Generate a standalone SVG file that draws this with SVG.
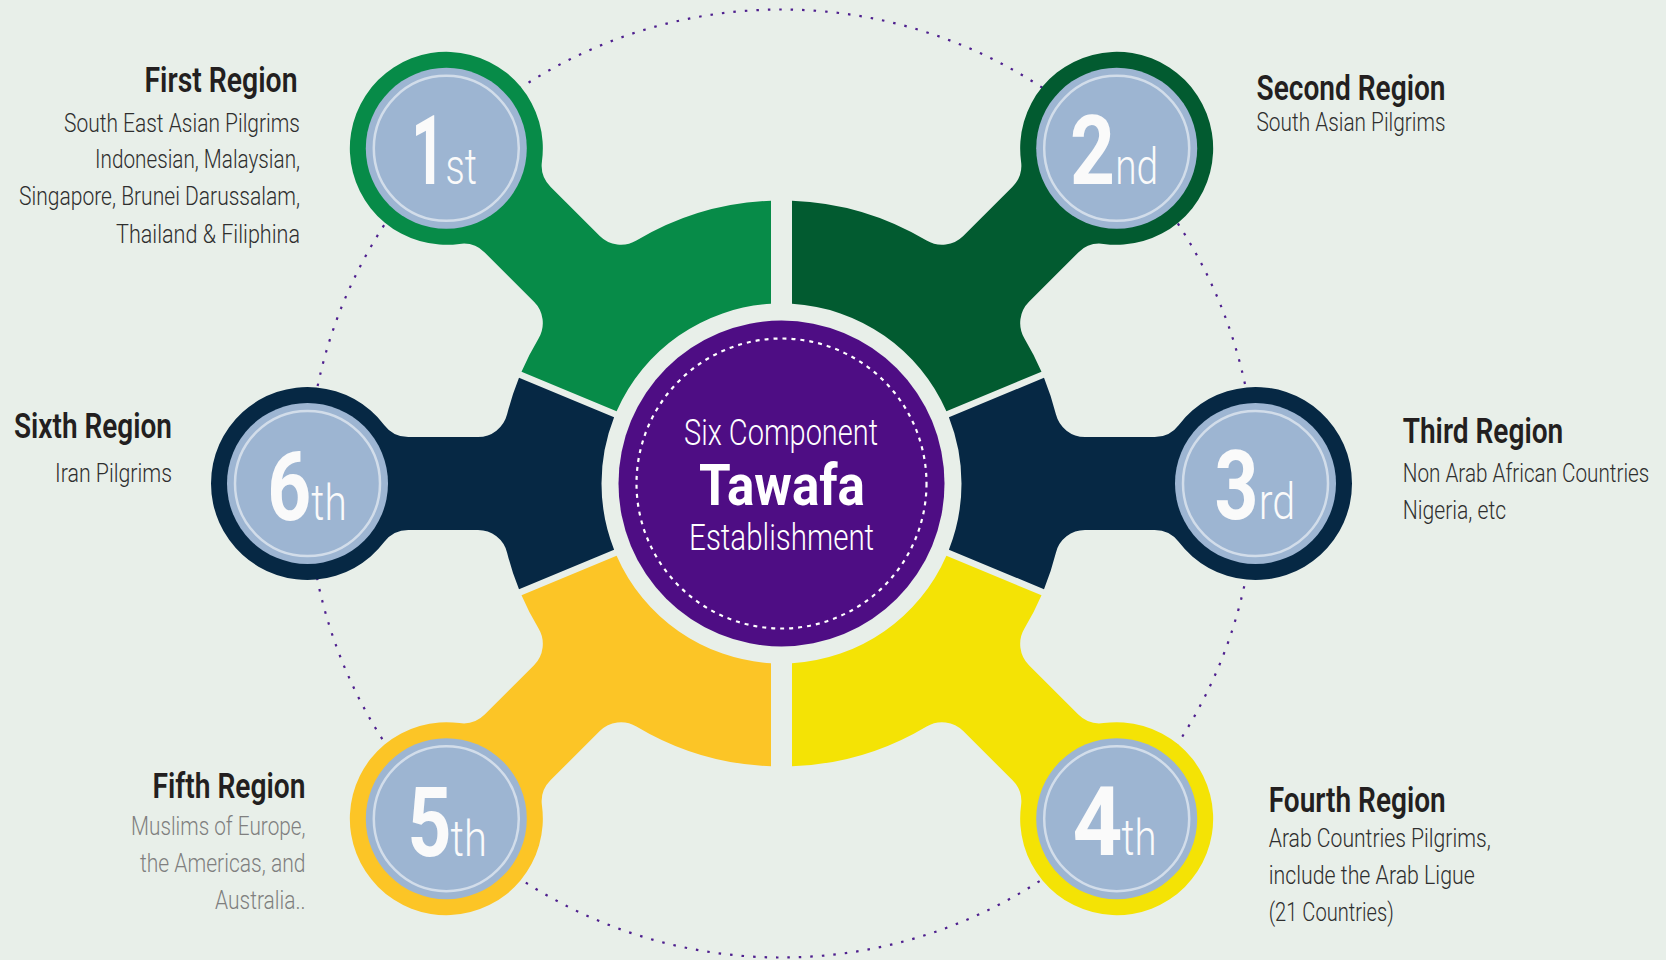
<svg xmlns="http://www.w3.org/2000/svg" xmlns:xlink="http://www.w3.org/1999/xlink" width="1666" height="960" viewBox="0 0 1666 960">
<style>
text{font-family:Roboto,"Liberation Sans","DejaVu Sans",sans-serif}
.ttl{font-size:35px;font-weight:600;fill:#231F20}
.dsc{font-size:26px;font-weight:300;fill:#2E2E2E}
.dsc5{font-size:26px;font-weight:300;fill:#7F7F7F}
.num{font-size:97px;font-weight:700;fill:#FAFAFA;text-anchor:middle}
.suf{font-size:50px;font-weight:300;fill:#FAFAFA}
.inner{fill:#9DB5D2}
.ring{fill:none;stroke:#D2DDEA;stroke-width:2.5}
.ctr{fill:#FFFFFF;text-anchor:middle}
.end{text-anchor:end}
</style>
<defs>
<path id="seg-diag" d="M -134.49 -119.64 L -207.40 -192.55 A 283 283 0 0 0 -274.4 -69.17 A 30 30 0 0 1 -303.5 -46.5 L -373.25 -46.5 A 30 30 0 0 1 -397.14 -58.36 A 96.5 96.5 0 1 0 -397.14 58.36 A 30 30 0 0 1 -373.25 46.5 L -303.5 46.5 A 30 30 0 0 1 -274.4 69.17 A 283 283 0 0 0 -262.86 104.83 L -167.63 65.58 A 180 180 0 0 1 -134.49 -119.64 Z"/>
<path id="seg-side" d="M -167.4 -66.16 L -262.5 -105.75 A 283 283 0 0 0 -274.4 -69.17 A 30 30 0 0 1 -303.5 -46.5 L -373.25 -46.5 A 30 30 0 0 1 -397.14 -58.36 A 96.5 96.5 0 1 0 -397.14 58.36 A 30 30 0 0 1 -373.25 46.5 L -303.5 46.5 A 30 30 0 0 1 -274.4 69.17 A 283 283 0 0 0 -262.5 105.75 L -167.4 66.16 A 180 180 0 0 1 -167.4 -66.16 Z"/>
</defs>
<rect width="1666" height="960" fill="#E8EFE9"/>
<g id="connectors">
<circle cx="781.5" cy="483.5" r="474" fill="none" stroke="#4E1F8E" stroke-width="2.2" stroke-dasharray="2.5 9"/>
</g>
<g id="node-1">
<use xlink:href="#seg-diag" href="#seg-diag" transform="translate(781.5 483.5) rotate(45)" fill="#078B48"/>
<circle class="inner" cx="446.3" cy="148.3" r="80.5"/>
<circle class="ring" cx="446.3" cy="148.3" r="72.5"/>
<text class="num" transform="translate(428 184) scale(0.6 1)" textLength="56" lengthAdjust="spacingAndGlyphs">1</text>
<text class="suf" transform="translate(445.5 184) scale(0.7 1)" textLength="45" lengthAdjust="spacingAndGlyphs">st</text>
<text class="ttl end" transform="translate(297.5 92) scale(0.8 1)" textLength="191.25" lengthAdjust="spacingAndGlyphs">First Region</text>
<text class="dsc end" transform="translate(300 131.5) scale(0.8 1)" textLength="295" lengthAdjust="spacingAndGlyphs">South East Asian Pilgrims</text>
<text class="dsc end" transform="translate(300 168) scale(0.8 1)" textLength="256.25" lengthAdjust="spacingAndGlyphs">Indonesian, Malaysian,</text>
<text class="dsc end" transform="translate(300 205) scale(0.8 1)" textLength="351.25" lengthAdjust="spacingAndGlyphs">Singapore, Brunei Darussalam,</text>
<text class="dsc end" transform="translate(300 242.5) scale(0.8 1)" textLength="230" lengthAdjust="spacingAndGlyphs">Thailand &amp; Filiphina</text>
</g>
<g id="node-2">
<use xlink:href="#seg-diag" href="#seg-diag" transform="translate(781.5 483.5) scale(-1 1) rotate(45)" fill="#025B30"/>
<circle class="inner" cx="1116.7" cy="148.3" r="80.5"/>
<circle class="ring" cx="1116.7" cy="148.3" r="72.5"/>
<text class="num" transform="translate(1092.6 183.5) scale(0.8 1)" textLength="56.25" lengthAdjust="spacingAndGlyphs">2</text>
<text class="suf" transform="translate(1115.2 183.5) scale(0.7 1)" textLength="61.4" lengthAdjust="spacingAndGlyphs">nd</text>
<text class="ttl" transform="translate(1256.5 100) scale(0.8 1)" textLength="236.25" lengthAdjust="spacingAndGlyphs">Second Region</text>
<text class="dsc" transform="translate(1256.5 130.5) scale(0.8 1)" textLength="236.25" lengthAdjust="spacingAndGlyphs">South Asian Pilgrims</text>
</g>
<g id="node-3">
<use xlink:href="#seg-side" href="#seg-side" transform="translate(781.5 483.5) scale(-1 1)" fill="#062844"/>
<circle class="inner" cx="1255.5" cy="483.5" r="80.5"/>
<circle class="ring" cx="1255.5" cy="483.5" r="72.5"/>
<text class="num" transform="translate(1236.5 518.5) scale(0.8 1)" textLength="55" lengthAdjust="spacingAndGlyphs">3</text>
<text class="suf" transform="translate(1258.7 518.5) scale(0.7 1)" textLength="52.1" lengthAdjust="spacingAndGlyphs">rd</text>
<text class="ttl" transform="translate(1402.7 443) scale(0.8 1)" textLength="200.75" lengthAdjust="spacingAndGlyphs">Third Region</text>
<text class="dsc" transform="translate(1402.7 481.5) scale(0.8 1)" textLength="308.25" lengthAdjust="spacingAndGlyphs">Non Arab African Countries</text>
<text class="dsc" transform="translate(1402.7 519) scale(0.8 1)" textLength="129.4" lengthAdjust="spacingAndGlyphs">Nigeria, etc</text>
</g>
<g id="node-4">
<use xlink:href="#seg-diag" href="#seg-diag" transform="translate(781.5 483.5) rotate(225)" fill="#F4E305"/>
<circle class="inner" cx="1116.7" cy="818.7" r="80.5"/>
<circle class="ring" cx="1116.7" cy="818.7" r="72.5"/>
<text class="num" transform="translate(1097.4 855) scale(0.8 1)" textLength="62.5" lengthAdjust="spacingAndGlyphs">4</text>
<text class="suf" transform="translate(1121.6 855) scale(0.7 1)" textLength="50" lengthAdjust="spacingAndGlyphs">th</text>
<text class="ttl" transform="translate(1268.7 812.3) scale(0.8 1)" textLength="221.25" lengthAdjust="spacingAndGlyphs">Fourth Region</text>
<text class="dsc" transform="translate(1268.7 846.5) scale(0.8 1)" textLength="277.5" lengthAdjust="spacingAndGlyphs">Arab Countries Pilgrims,</text>
<text class="dsc" transform="translate(1268.7 884) scale(0.8 1)" textLength="257.5" lengthAdjust="spacingAndGlyphs">include the Arab Ligue</text>
<text class="dsc" transform="translate(1268.7 920.5) scale(0.8 1)" textLength="156.25" lengthAdjust="spacingAndGlyphs">(21 Countries)</text>
</g>
<g id="node-5">
<use xlink:href="#seg-diag" href="#seg-diag" transform="translate(781.5 483.5) scale(1 -1) rotate(45)" fill="#FCC526"/>
<circle class="inner" cx="446.3" cy="818.7" r="80.5"/>
<circle class="ring" cx="446.3" cy="818.7" r="72.5"/>
<text class="num" transform="translate(429.6 855.5) scale(0.8 1)" textLength="55" lengthAdjust="spacingAndGlyphs">5</text>
<text class="suf" transform="translate(450.6 855.5) scale(0.7 1)" textLength="52.1" lengthAdjust="spacingAndGlyphs">th</text>
<text class="ttl end" transform="translate(305.5 798.3) scale(0.8 1)" textLength="191.25" lengthAdjust="spacingAndGlyphs">Fifth Region</text>
<text class="dsc5 end" transform="translate(305.5 835) scale(0.8 1)" textLength="218.1" lengthAdjust="spacingAndGlyphs">Muslims of Europe,</text>
<text class="dsc5 end" transform="translate(305.5 872) scale(0.8 1)" textLength="206.9" lengthAdjust="spacingAndGlyphs">the Americas, and</text>
<text class="dsc5 end" transform="translate(305.5 909) scale(0.8 1)" textLength="113.1" lengthAdjust="spacingAndGlyphs">Australia..</text>
</g>
<g id="node-6">
<use xlink:href="#seg-side" href="#seg-side" transform="translate(781.5 483.5)" fill="#062844"/>
<circle class="inner" cx="307.5" cy="483.5" r="80.5"/>
<circle class="ring" cx="307.5" cy="483.5" r="72.5"/>
<text class="num" transform="translate(289.2 520) scale(0.8 1)" textLength="55" lengthAdjust="spacingAndGlyphs">6</text>
<text class="suf" transform="translate(311.3 520) scale(0.7 1)" textLength="50.6" lengthAdjust="spacingAndGlyphs">th</text>
<text class="ttl end" transform="translate(172 438.3) scale(0.8 1)" textLength="197.5" lengthAdjust="spacingAndGlyphs">Sixth Region</text>
<text class="dsc end" transform="translate(172 481.5) scale(0.8 1)" textLength="146.25" lengthAdjust="spacingAndGlyphs">Iran Pilgrims</text>
</g>
<g id="center">
<circle cx="781.5" cy="483.5" r="163" fill="#4E0D84"/>
<circle cx="781.5" cy="483.5" r="145" fill="none" stroke="#FFFFFF" stroke-width="2.2" stroke-dasharray="4 5"/>
<text class="ctr" transform="translate(781 445) scale(0.8 1)" font-size="37" font-weight="300" textLength="242.5" lengthAdjust="spacingAndGlyphs">Six Component</text>
<text class="ctr" transform="translate(782 505) scale(0.8 1)" font-size="58" font-weight="700" textLength="207.5" lengthAdjust="spacingAndGlyphs">Tawafa</text>
<text class="ctr" transform="translate(781.6 550) scale(0.8 1)" font-size="37" font-weight="300" textLength="231.25" lengthAdjust="spacingAndGlyphs">Establishment</text>
</g>
</svg>
